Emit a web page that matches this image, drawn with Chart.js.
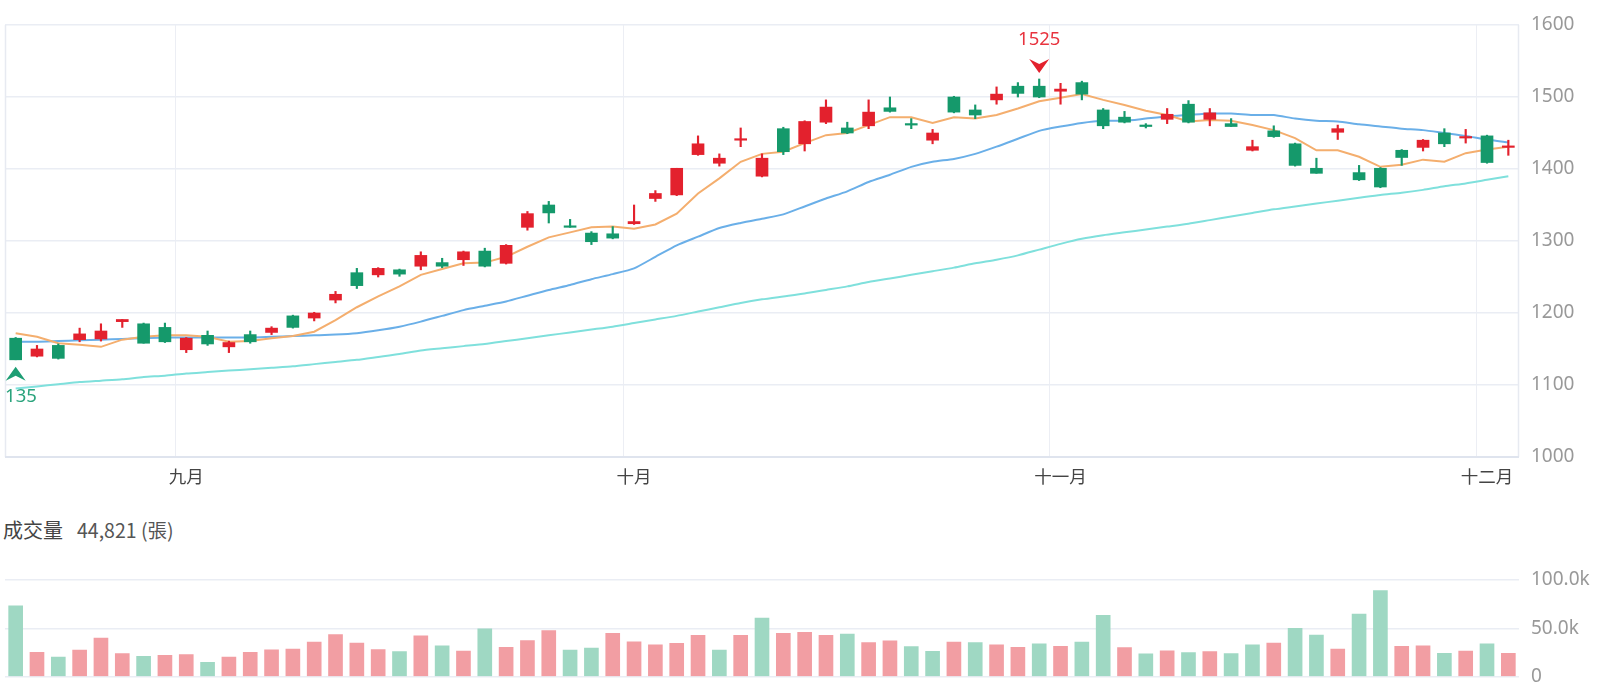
<!DOCTYPE html>
<html><head><meta charset="utf-8">
<script src="https://cdn.jsdelivr.net/npm/chart.js@4.4.1/dist/chart.umd.min.js"></script>
<style>
html,body{margin:0;padding:0;background:#fff;}
#wrap{position:relative;width:1600px;height:700px;overflow:hidden;background:#fff;}
#main{position:absolute;left:0;top:0;}
#vol{position:absolute;left:0;top:500px;}
#volTitle{position:absolute;left:3px;top:517px;font-family:"Noto Sans CJK TC","Noto Sans",sans-serif;white-space:nowrap;line-height:26px;}
#volTitle .k{font-size:20px;color:#444;}
#volTitle .v{font-size:19.5px;color:#555;margin-left:14px;}
</style></head>
<body>
<div id="wrap">
<canvas id="main" width="1600" height="500"></canvas>
<div id="volTitle"><span class="k">成交量</span><span class="v">44,821 (張)</span></div>
<canvas id="vol" width="1600" height="200"></canvas>
</div>
<script>
const dates = [
'2025-08-20','2025-08-21','2025-08-22','2025-08-25','2025-08-26','2025-08-27','2025-08-28','2025-08-29',
'2025-09-01','2025-09-02','2025-09-03','2025-09-04','2025-09-05','2025-09-08','2025-09-09','2025-09-10','2025-09-11','2025-09-12',
'2025-09-15','2025-09-16','2025-09-17','2025-09-18','2025-09-19','2025-09-22','2025-09-23','2025-09-24','2025-09-25','2025-09-26','2025-09-30',
'2025-10-01','2025-10-02','2025-10-03','2025-10-07','2025-10-08','2025-10-09','2025-10-13','2025-10-14','2025-10-15','2025-10-16','2025-10-17',
'2025-10-20','2025-10-21','2025-10-22','2025-10-23','2025-10-27','2025-10-28','2025-10-29','2025-10-30','2025-10-31',
'2025-11-03','2025-11-04','2025-11-05','2025-11-06','2025-11-07','2025-11-10','2025-11-11','2025-11-12','2025-11-13','2025-11-14',
'2025-11-17','2025-11-18','2025-11-19','2025-11-20','2025-11-21','2025-11-24','2025-11-25','2025-11-26','2025-11-27','2025-11-28',
'2025-12-01','2025-12-02'];

const openP  = [1165,1140,1155,1163,1164,1188,1185,1180,1149,1169,1153,1170,1173,1196,1193,1218,1256,1253,1260,1265,1270,1274,1286,1269,1319,1350,1321,1311,1310,1324,1359,1364,1420,1408,1440,1390,1456,1435,1465,1457,1460,1485,1463,1440,1500,1482,1496,1515,1515,1508,1520,1482,1472,1461,1469,1490,1469,1463,1426,1453,1435,1401,1451,1395,1401,1426,1430,1450,1443,1446,1430];
const highP  = [1166,1155,1157,1179,1185,1191,1186,1186,1166,1175,1161,1175,1181,1197,1201,1230,1262,1263,1261,1285,1276,1286,1290,1295,1341,1355,1330,1313,1320,1350,1370,1401,1446,1421,1457,1421,1458,1467,1496,1465,1496,1500,1470,1455,1501,1489,1514,1520,1525,1519,1522,1484,1480,1463,1484,1495,1484,1470,1440,1460,1436,1415,1461,1405,1402,1427,1441,1456,1455,1447,1440];
const lowP   = [1135,1139,1136,1160,1161,1180,1158,1159,1145,1155,1145,1158,1170,1179,1189,1214,1234,1250,1251,1260,1263,1266,1264,1268,1315,1325,1319,1295,1303,1323,1355,1363,1419,1404,1431,1389,1420,1425,1463,1449,1456,1479,1456,1435,1478,1470,1490,1500,1499,1490,1496,1456,1464,1457,1463,1464,1460,1459,1425,1444,1404,1394,1441,1384,1374,1405,1425,1431,1436,1408,1419];
const closeP = [1135,1150,1137,1171,1175,1191,1158,1160,1165,1157,1159,1160,1179,1180,1200,1226,1238,1262,1254,1280,1265,1285,1265,1294,1338,1339,1319,1299,1304,1327,1366,1401,1435,1415,1442,1415,1424,1466,1486,1450,1479,1480,1461,1450,1479,1475,1504,1505,1500,1511,1504,1460,1465,1459,1476,1465,1478,1459,1431,1445,1405,1394,1456,1385,1375,1416,1440,1435,1445,1409,1432];
const volume = [73200,25200,20300,27400,40000,23900,21000,21900,22900,14800,20300,25200,27700,28400,35800,43500,34800,28100,25800,42300,31900,26500,49400,30300,37400,47700,27400,29400,44800,36100,32900,34500,42600,27400,42600,60600,44800,45800,42600,43900,35200,37100,31000,26100,35800,35200,32900,30300,33900,31300,35800,63500,30000,23500,26800,24800,25800,23900,32900,34800,50000,42900,28400,64800,89000,31300,31900,24200,26500,33900,24200];
const ma5  = [1172,1167,1158,1156,1153,1163,1167,1169,1169,1167,1160,1161,1165,1168,1174,1190,1208,1223,1237,1253,1261,1269,1270,1278,1292,1305,1312,1319,1320,1317,1323,1338,1366,1387,1410,1421,1424,1436,1447,1450,1461,1472,1472,1464,1472,1470,1475,1484,1494,1499,1504,1496,1489,1481,1475,1466,1468,1467,1461,1454,1443,1426,1426,1417,1403,1406,1413,1410,1422,1427,1431];
const ma20 = [1160,1160,1161,1162,1163,1164,1165,1166,1166,1166,1166,1166,1167,1168,1169,1170,1172,1176,1181,1188,1196,1204,1210,1216,1224,1232,1239,1247,1254,1262,1278,1294,1306,1318,1325,1331,1337,1348,1359,1369,1382,1392,1403,1410,1414,1421,1431,1442,1453,1459,1464,1467,1467,1470,1473,1475,1477,1477,1475,1475,1470,1467,1466,1462,1459,1456,1454,1450,1446,1441,1437];
const ma60 = [1095,1098,1101,1104,1106,1108,1111,1113,1116,1118,1120,1122,1124,1126,1129,1132,1135,1139,1143,1148,1151,1154,1157,1161,1165,1169,1173,1177,1181,1186,1191,1196,1202,1208,1214,1219,1223,1227,1232,1237,1243,1248,1253,1258,1263,1269,1274,1280,1288,1296,1303,1308,1312,1316,1320,1324,1329,1334,1339,1344,1348,1352,1356,1360,1364,1367,1371,1376,1380,1385,1390];
const monthNames = ['一月','二月','三月','四月','五月','六月','七月','八月','九月','十月','十一月','十二月'];
const priceTicks = [1000,1100,1200,1300,1400,1500,1600];
const volumeTicks = [0,50000,100000];

const UP='#e3212d', DOWN='#15996b', UP_V='#f29ea3', DOWN_V='#9fd8c3';
const FONT='"Noto Sans","Noto Sans CJK TC",sans-serif';
const CJK='"Noto Sans CJK TC","Noto Sans",sans-serif';
const isMonthStart = i => i>0 && i<dates.length && dates[i].slice(5,7)!==dates[i-1].slice(5,7);
const candleCol = dates.map((d,i)=> closeP[i]>=openP[i]?UP:DOWN);
const volCol = dates.map((d,i)=> (i===0 ? closeP[0]>=openP[0] : closeP[i]>closeP[i-1]) ? UP_V : DOWN_V);

const frame = {
  id:'frame',
  beforeDatasetsDraw(c){
    const a=c.chartArea, x=c.ctx; x.save();
    x.strokeStyle='#e7eaf1'; x.lineWidth=1.5;
    x.beginPath(); x.moveTo(a.left+0.5,a.top); x.lineTo(a.left+0.5,a.bottom);
    x.moveTo(a.right-0.5,a.top); x.lineTo(a.right-0.5,a.bottom); x.stroke();
    x.strokeStyle='#dfe4ee'; x.lineWidth=2;
    x.beginPath(); x.moveTo(a.left,a.bottom); x.lineTo(a.right,a.bottom); x.stroke();
    x.restore();
  }
};
const marks = {
  id:'marks',
  afterDatasetsDraw(c){
    const xs=c.scales.x, ys=c.scales.y, ctx=c.ctx, a=c.chartArea;
    let hi=0, lo=0;
    highP.forEach((v,i)=>{ if(v>highP[hi]) hi=i; });
    lowP.forEach((v,i)=>{ if(v<lowP[lo]) lo=i; });
    ctx.save();
    ctx.beginPath(); ctx.rect(a.left,a.top-30,a.right-a.left,a.bottom-a.top+60); ctx.clip();
    ctx.textAlign='center'; ctx.textBaseline='middle'; ctx.font='18.5px '+FONT;
    let x=xs.getPixelForValue(hi), y=ys.getPixelForValue(highP[hi])-6;
    ctx.fillStyle='#e3212d';
    ctx.beginPath(); ctx.moveTo(x,y); ctx.lineTo(x-10,y-14); ctx.lineTo(x,y-9); ctx.lineTo(x+10,y-14); ctx.closePath(); ctx.fill();
    ctx.fillStyle='#e8333e'; ctx.fillText(String(highP[hi]), x, y-33);
    x=xs.getPixelForValue(lo); y=ys.getPixelForValue(lowP[lo])+7;
    ctx.fillStyle='#1d9e74';
    ctx.beginPath(); ctx.moveTo(x,y); ctx.lineTo(x-10,y+14); ctx.lineTo(x,y+9); ctx.lineTo(x+10,y+14); ctx.closePath(); ctx.fill();
    ctx.fillStyle='#2aa37c'; ctx.fillText(String(lowP[lo]), x, y+30);
    ctx.restore();
  }
};

new Chart(document.getElementById('main'), {
  data:{
    labels: dates,
    datasets:[
      {type:'bar', data: dates.map((d,i)=>[openP[i],closeP[i]]), backgroundColor:candleCol, barThickness:12, grouped:false, minBarLength:1.5, order:1},
      {type:'bar', data: dates.map((d,i)=>[lowP[i],highP[i]]), backgroundColor:candleCol, barThickness:1.5, grouped:false, order:2},
      {type:'line', data: ma5, borderColor:'#f4ae6e', borderWidth:2, pointRadius:0, tension:0, order:3},
      {type:'line', data: ma20, borderColor:'#6aafe8', borderWidth:2, pointRadius:0, tension:0.2, order:3},
      {type:'line', data: ma60, borderColor:'#7fe0dc', borderWidth:2, pointRadius:0, tension:0.2, order:3}
    ]
  },
  options:{
    responsive:false, maintainAspectRatio:false, animation:false,
    layout:{padding:{left:5,top:25,right:0,bottom:0}},
    plugins:{legend:{display:false},tooltip:{enabled:false}},
    scales:{
      x:{type:'category', offset:true,
         grid:{offset:true, drawTicks:false, lineWidth:1, color:ctx=>isMonthStart(ctx.index)?'#eceef4':'rgba(0,0,0,0)'},
         border:{display:false},
         ticks:{autoSkip:false, maxRotation:0, padding:9, color:'#444', font:{size:17.5, family:CJK},
                callback:(v,i)=> isMonthStart(i) ? monthNames[parseInt(dates[i].slice(5,7),10)-1] : ''},
         afterFit:s=>{s.height=43;}},
      y:{position:'right', min:priceTicks[0], max:priceTicks[priceTicks.length-1],
         afterBuildTicks:s=>{s.ticks=priceTicks.map(v=>({value:v}));},
         grid:{drawTicks:false, color:'#eaedf4', lineWidth:1.5},
         border:{display:false},
         ticks:{padding:12, color:'#999', font:{size:19, family:FONT}, callback:v=>String(v)},
         afterFit:s=>{s.width=81;}}
    }
  },
  plugins:[frame, marks]
});

new Chart(document.getElementById('vol'), {
  type:'bar',
  data:{labels: dates, datasets:[{data: volume, backgroundColor: volCol, barThickness:14}]},
  options:{
    responsive:false, maintainAspectRatio:false, animation:false,
    layout:{padding:{left:5,top:80,right:0,bottom:17}},
    plugins:{legend:{display:false},tooltip:{enabled:false}},
    scales:{
      x:{display:false, offset:true},
      y:{position:'right', min:volumeTicks[0], max:volumeTicks[volumeTicks.length-1],
         afterBuildTicks:s=>{s.ticks=volumeTicks.map(v=>({value:v}));},
         grid:{drawTicks:false, color:'#eaedf4', lineWidth:1.5},
         border:{display:false},
         ticks:{padding:12, color:'#999', font:{size:19, family:FONT}, callback:v=> v===0?'0':(v/1000).toFixed(1)+'k'},
         afterFit:s=>{s.width=81;}}
    }
  }
});
</script>
</body></html>
